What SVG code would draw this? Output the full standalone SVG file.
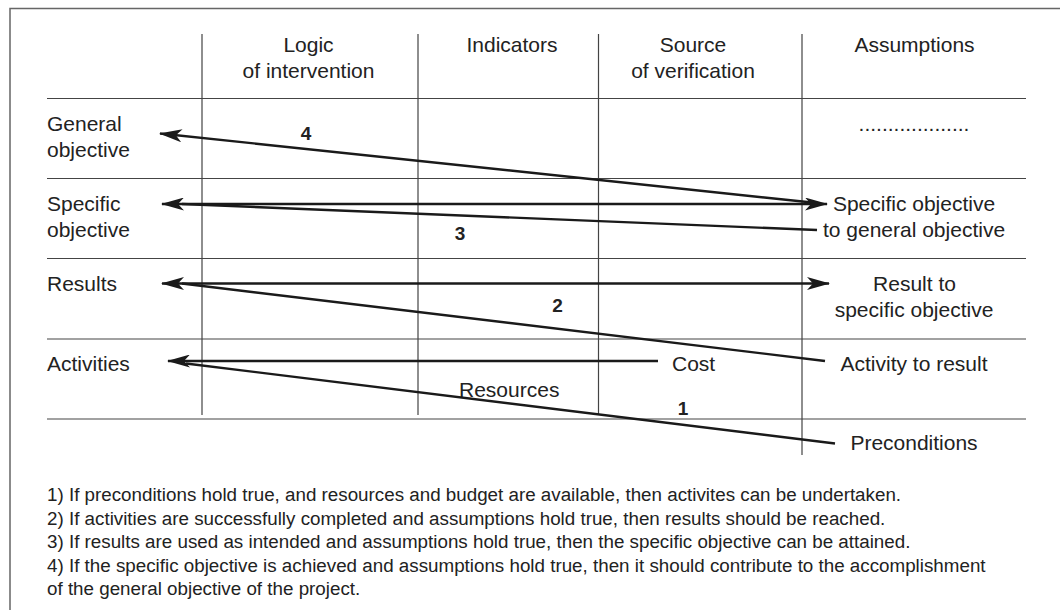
<svg xmlns="http://www.w3.org/2000/svg" width="1060" height="610" viewBox="0 0 1060 610">
<style>
text{font-family:"Liberation Sans",Arial,sans-serif;fill:#222;}
.b{font-size:21px;}
.c{text-anchor:middle;}
.n{font-size:19px;font-weight:bold;text-anchor:middle;}
.f{font-size:18.8px;}
.grid{stroke:#444;stroke-width:1.2;fill:none;}
.frame{stroke:#666;stroke-width:1.5;fill:none;}
.arr{stroke:#1a1a1a;stroke-width:2.4;fill:none;}
</style>
<defs>
<marker id="ah" viewBox="0 0 23 13" refX="22" refY="6.5" markerWidth="23" markerHeight="13" markerUnits="userSpaceOnUse" orient="auto-start-reverse">
<path d="M0,0 L23,6.5 L0,13 L6,6.5 Z" fill="#1a1a1a"/>
</marker>
</defs>
<rect width="1060" height="610" fill="#fff"/>
<g id="frame">
<path class="frame" d="M10,610 L10,8.5 L1060,8.5"/>
</g>
<g id="grid">
<path class="grid" d="M47,98.5 H1026 M47,178.5 H1026 M47,258.5 H1026 M47,339 H1026 M47,419 H1026"/>
<path class="grid" d="M202,34 V415 M418,34 V415 M598.5,34 V415 M802,34 V455"/>
</g>
<g id="header">
<text class="b c" x="308.5" y="52">Logic</text>
<text class="b c" x="308.5" y="78">of intervention</text>
<text class="b c" x="512" y="52">Indicators</text>
<text class="b c" x="693" y="52">Source</text>
<text class="b c" x="693" y="78">of verification</text>
<text class="b c" x="914.5" y="52">Assumptions</text>
</g>
<g id="row-general">
<text class="b" x="47" y="131">General</text>
<text class="b" x="47" y="157">objective</text>
<text class="b c" x="914" y="131">...................</text>
</g>
<g id="row-specific">
<text class="b" x="47" y="211">Specific</text>
<text class="b" x="47" y="237">objective</text>
<text class="b c" x="914" y="211">Specific objective</text>
<text class="b c" x="914" y="237">to general objective</text>
</g>
<g id="row-results">
<text class="b" x="47" y="291">Results</text>
<text class="b c" x="914.5" y="291">Result to</text>
<text class="b c" x="914" y="317">specific objective</text>
</g>
<g id="row-activities">
<text class="b" x="47" y="371">Activities</text>
<text class="b" x="672" y="371">Cost</text>
<text class="b" x="459" y="397">Resources</text>
<text class="b c" x="914" y="371">Activity to result</text>
<text class="b c" x="914" y="450">Preconditions</text>
</g>
<g id="connectors">
<path class="arr" d="M812,202.5 L160,133.5" marker-end="url(#ah)"/>
<path class="arr" d="M162,204 H827" marker-start="url(#ah)" marker-end="url(#ah)"/>
<path class="arr" d="M817,230 L182,204"/>
<path class="arr" d="M162,283.5 H829" marker-start="url(#ah)" marker-end="url(#ah)"/>
<path class="arr" d="M825,361 L182,283.5"/>
<path class="arr" d="M658,361 H168" marker-end="url(#ah)"/>
<path class="arr" d="M835,443.5 L186,363.5"/>
</g>
<g id="numbers">
<text class="n" x="306" y="140">4</text>
<text class="n" x="460" y="240">3</text>
<text class="n" x="557.5" y="312">2</text>
<text class="n" x="683" y="415">1</text>
</g>
<g id="notes">
<text class="f" x="47" y="501">1) If preconditions hold true, and resources and budget are available, then activites can be undertaken.</text>
<text class="f" x="47" y="524.5">2) If activities are successfully completed and assumptions hold true, then results should be reached.</text>
<text class="f" x="47" y="548">3) If results are used as intended and assumptions hold true, then the specific objective can be attained.</text>
<text class="f" x="47" y="571.5">4) If the specific objective is achieved and assumptions hold true, then it should contribute to the accomplishment</text>
<text class="f" x="47" y="595">of the general objective of the project.</text>
</g>
</svg>
